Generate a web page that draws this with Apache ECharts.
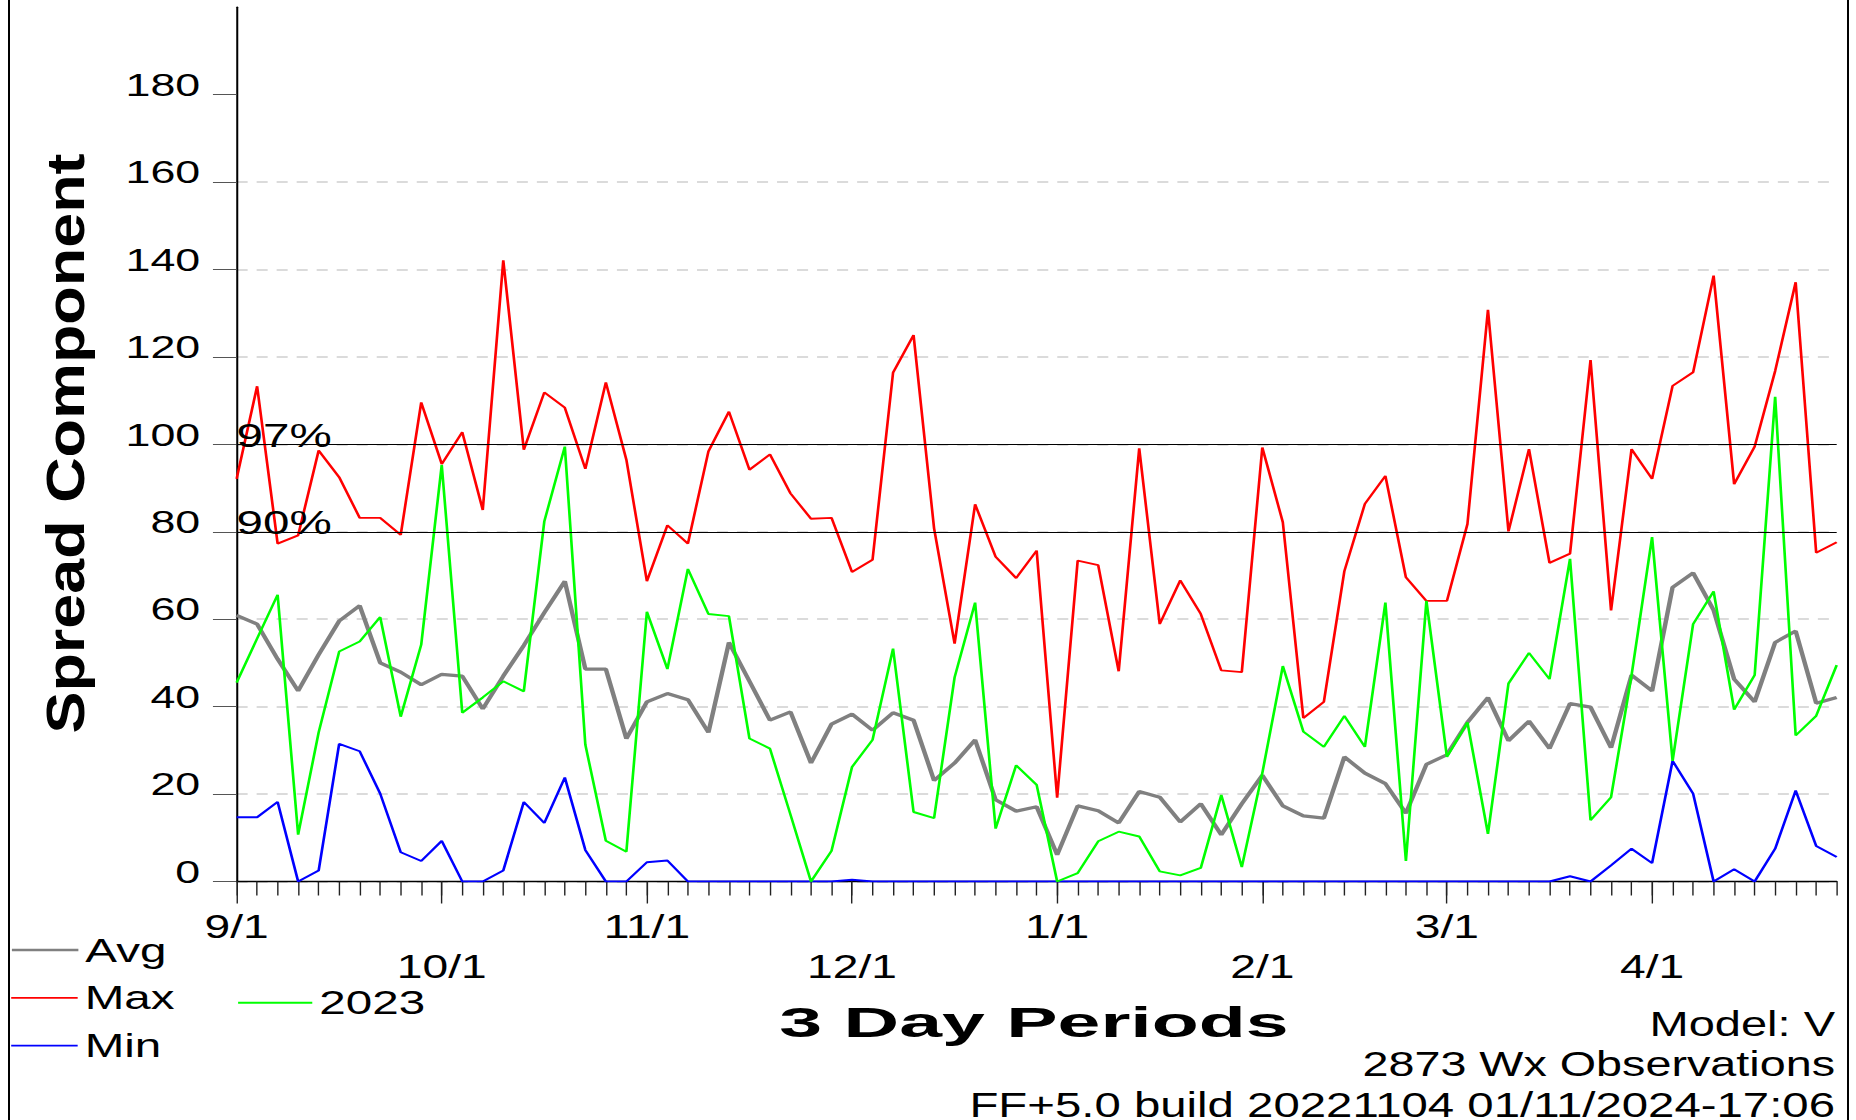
<!DOCTYPE html>
<html>
<head>
<meta charset="utf-8">
<title>Spread Component - 3 Day Periods</title>
<script src="https://cdn.jsdelivr.net/npm/echarts@6/dist/echarts.min.js"></script>
<style>
  html, body { margin: 0; padding: 0; background: #fff; overflow: hidden; }
  /* the original picture is wide and flat, so the chart is drawn narrow and stretched sideways */
  #chart { width: 1326px; height: 1120px; transform: scaleX(1.39970); transform-origin: 0 0; }
</style>
</head>
<body>
<div id="chart"></div>
<script>
const SX = 1856 / 1326;
const fx = x => x / SX;
const FONT = "'Liberation Sans', Arial, sans-serif";

// x axis: 79 three-day periods, months start at these period indices
const periodCount = 79;
const monthStarts = [0, 10, 20, 30, 40, 50, 59, 69];
const monthLabels = ['9/1', '10/1', '11/1', '12/1', '1/1', '2/1', '3/1', '4/1'];
const yTicks = [0, 20, 40, 60, 80, 100, 120, 140, 160, 180];

// percentile lines
const percentileValues = [100, 80];
const percentileNames = ['97%', '90%'];

const avgValues = [
  60.9, 58.9, 50.9, 43.6, 51.9, 59.6, 63.1, 50.0, 47.9, 45.0,
  47.4, 47.0, 39.5, 47.0, 54.0, 61.5, 68.7, 48.6, 48.6, 32.7,
  41.1, 43.0, 41.6, 34.1, 54.7, 45.8, 36.9, 38.8, 27.1, 36.0,
  38.3, 34.6, 38.6, 36.9, 23.1, 27.1, 32.4, 18.7, 16.1, 17.1,
  6.1, 17.3, 16.2, 13.4, 20.6, 19.3, 13.6, 17.8, 10.7, 17.8,
  24.3, 17.3, 15.0, 14.5, 28.5, 24.8, 22.4, 15.6, 26.8, 29.0,
  36.4, 42.1, 32.2, 36.7, 30.4, 40.7, 39.9, 30.6, 47.2, 43.6,
  67.3, 70.6, 62.1, 46.3, 41.1, 54.7, 57.3, 40.8, 42.1
];
const maxValues = [
  92.1, 113.3, 77.3, 79.2, 98.6, 92.5, 83.2, 83.2, 79.3, 109.6,
  95.5, 102.8, 85.0, 142.1, 98.8, 111.9, 108.4, 94.4, 114.2, 96.5,
  68.7, 81.5, 77.3, 98.4, 107.5, 94.2, 97.7, 88.8, 83.0, 83.2,
  70.8, 73.6, 116.4, 125.0, 80.8, 54.4, 86.3, 74.3, 69.4, 75.7,
  19.2, 73.4, 72.4, 48.1, 99.1, 58.9, 68.9, 61.2, 48.3, 47.9,
  99.3, 82.2, 37.4, 41.1, 71.0, 86.4, 92.8, 69.6, 64.2, 64.2,
  81.8, 130.8, 80.1, 98.9, 72.9, 75.0, 119.3, 62.0, 98.9, 92.1,
  113.4, 116.5, 138.6, 90.9, 99.5, 116.8, 137.1, 75.2, 77.6
];
const minValues = [
  14.7, 14.7, 18.2, 0, 2.5, 31.5, 29.8, 20.1, 6.7, 4.7,
  9.3, 0, 0, 2.5, 18.2, 13.4, 23.8, 7.2, 0, 0,
  4.4, 4.8, 0, 0, 0, 0, 0, 0, 0, 0,
  0.4, 0, 0, 0, 0, 0, 0, 0, 0, 0,
  0, 0, 0, 0, 0, 0, 0, 0, 0, 0,
  0, 0, 0, 0, 0, 0, 0, 0, 0, 0,
  0, 0, 0, 0, 0, 1.2, 0, 3.7, 7.5, 4.2,
  27.6, 20.1, 0, 2.8, 0, 7.5, 20.8, 8.1, 5.6
];
const season2023 = [
  45.5, 55.6, 65.6, 10.7, 34.1, 52.6, 54.9, 60.5, 37.7, 54.2,
  95.3, 38.6, 42.1, 45.8, 43.5, 82.4, 99.5, 31.3, 9.3, 6.8,
  61.7, 48.6, 71.5, 61.2, 60.7, 32.7, 30.4, 15.3, 0, 7.0,
  26.2, 32.4, 53.3, 15.9, 14.5, 46.7, 63.8, 12.1, 26.6, 22.1,
  0, 1.9, 9.2, 11.4, 10.3, 2.3, 1.4, 3.1, 19.8, 3.3,
  24.8, 49.3, 34.3, 30.8, 37.9, 30.8, 63.8, 4.7, 64.2, 28.5,
  36.4, 10.9, 45.3, 52.3, 46.3, 73.8, 14.0, 19.3, 47.2, 78.8,
  27.6, 58.9, 66.4, 39.3, 47.2, 110.9, 33.4, 37.9, 49.5
];

const periods = [];
for (let i = 0; i < periodCount; i++) periods.push(String(i));

const isMonthStart = index => monthStarts.indexOf(index) >= 0;
// month labels alternate between an upper and a lower row
const isUpperRow = index => monthStarts.indexOf(index) % 2 === 0;
const isLowerRow = index => monthStarts.indexOf(index) % 2 === 1;
const monthLabel = (value, index) => {
  const k = monthStarts.indexOf(index);
  return k < 0 ? '' : monthLabels[k];
};

function lineSeries(name, data, color, width) {
  return {
    name: name,
    type: 'line',
    data: data,
    symbol: 'none',
    silent: true,
    lineStyle: { color: color, width: width },
    itemStyle: { color: color }
  };
}

const avgSeries = lineSeries('Avg', avgValues, '#808080', 3.2);
avgSeries.markLine = {
  silent: true,
  symbol: 'none',
  lineStyle: { color: '#000', width: 1.2, type: 'solid' },
  label: {
    show: true,
    position: 'insideStartTop',
    formatter: '{b}',
    fontSize: 34,
    fontFamily: FONT,
    color: '#000',
    distance: [0, 0],
    lineHeight: 18
  },
  data: percentileValues.map((v, k) => ({ yAxis: v, name: percentileNames[k] }))
};

const legendText = { fontSize: 34, color: '#000', fontFamily: FONT };

function monthAxis(showTicks, labelRow, margin) {
  return {
    type: 'category',
    data: periods,
    boundaryGap: false,
    position: 'bottom',
    offset: 0,
    axisLine: { show: false },
    axisTick: { show: showTicks, interval: isMonthStart, length: 22, lineStyle: { color: '#222', width: 1 } },
    axisLabel: {
      show: true,
      interval: labelRow,
      formatter: monthLabel,
      fontSize: 33,
      lineHeight: 40.7,
      margin: margin,
      color: '#000',
      verticalAlign: 'top'
    },
    splitLine: { show: false }
  };
}

const option = {
  animation: false,
  backgroundColor: '#fff',
  textStyle: { fontFamily: FONT },
  grid: {
    left: fx(236.6),
    right: 1326 - fx(1836.7),
    top: 7.3,
    bottom: 238.5,
    containLabel: false,
    outerBoundsMode: 'none'
  },
  legend: [
    {
      orient: 'vertical',
      left: fx(10),
      top: 933,
      padding: 0,
      itemWidth: 47.5,
      itemHeight: 14,
      itemGap: 13.85,
      selectedMode: false,
      itemStyle: { opacity: 0 },
      lineStyle: { width: 2.7 },
      data: ['Avg'],
      textStyle: legendText
    },
    {
      orient: 'vertical',
      left: fx(10),
      top: 980.85,
      padding: 0,
      itemWidth: 47.5,
      itemHeight: 14,
      itemGap: 13.85,
      selectedMode: false,
      itemStyle: { opacity: 0 },
      lineStyle: { width: 1.7 },
      data: ['Max', 'Min'],
      textStyle: legendText
    },
    {
      left: fx(236.7),
      top: 985.7,
      padding: 0,
      itemWidth: 53,
      itemHeight: 14,
      selectedMode: false,
      itemStyle: { opacity: 0 },
      lineStyle: { width: 2 },
      data: ['2023'],
      textStyle: legendText
    }
  ],
  xAxis: [
    {
      type: 'category',
      data: periods,
      boundaryGap: false,
      offset: 0,
      axisLine: { show: true, lineStyle: { color: '#000', width: 1.3 } },
      axisTick: { show: true, interval: 0, length: 14, lineStyle: { color: '#222', width: 1 } },
      axisLabel: { show: false },
      splitLine: { show: false }
    },
    monthAxis(true, isUpperRow, 24.7),
    monthAxis(false, isLowerRow, 65.4)
  ],
  yAxis: {
    type: 'value',
    min: 0,
    max: 200,
    interval: 20,
    axisLine: { show: true, lineStyle: { color: '#000', width: 1.45 } },
    axisTick: { show: true, length: 16.9, customValues: yTicks, lineStyle: { color: '#555', width: 1 } },
    axisLabel: {
      customValues: yTicks,
      fontSize: 32,
      color: '#000',
      margin: 26,
      verticalAlign: 'bottom',
      lineHeight: 20
    },
    splitLine: {
      show: true,
      showMaxLine: false,
      lineStyle: { color: '#d0d0d0', width: 1.5, type: [7.9, 6.4] }
    }
  },
  graphic: [
    {
      type: 'line', silent: true,
      shape: { x1: fx(9), y1: 0, x2: fx(9), y2: 1120 },
      style: { stroke: '#000', lineWidth: 2 / SX }
    },
    {
      type: 'line', silent: true,
      shape: { x1: fx(1848), y1: 0, x2: fx(1848), y2: 1120 },
      style: { stroke: '#000', lineWidth: 2 / SX }
    },
    {
      type: 'text', silent: true,
      x: fx(65), y: 443.5,
      rotation: Math.PI / 2,
      scaleX: 1.258, scaleY: 0.758,
      style: {
        text: 'Spread Component', fill: '#000',
        font: 'bold 50px ' + FONT,
        align: 'center', verticalAlign: 'middle',
        textAlign: 'center', textVerticalAlign: 'middle'
      }
    },
    {
      type: 'text', silent: true,
      x: fx(1034), y: 1022,
      scaleX: 1.31,
      style: {
        text: '3 Day Periods', fill: '#000',
        font: 'bold 42px ' + FONT,
        align: 'center', verticalAlign: 'middle',
        textAlign: 'center', textVerticalAlign: 'middle'
      }
    },
    {
      type: 'text', silent: true,
      x: fx(1835), y: 1024,
      scaleX: 0.96,
      style: {
        text: 'Model: V', fill: '#000',
        font: '35px ' + FONT,
        align: 'right', verticalAlign: 'middle',
        textAlign: 'right', textVerticalAlign: 'middle'
      }
    },
    {
      type: 'text', silent: true,
      x: fx(1835), y: 1064.2,
      scaleX: 0.954,
      style: {
        text: '2873 Wx Observations', fill: '#000',
        font: '35px ' + FONT,
        align: 'right', verticalAlign: 'middle',
        textAlign: 'right', textVerticalAlign: 'middle'
      }
    },
    {
      type: 'text', silent: true,
      x: fx(1835), y: 1104.5,
      scaleX: 0.94,
      style: {
        text: 'FF+5.0 build 20221104 01/11/2024-17:06', fill: '#000',
        font: '36px ' + FONT,
        lineHeight: 20,
        align: 'right', verticalAlign: 'middle',
        textAlign: 'right', textVerticalAlign: 'middle'
      }
    }
  ],
  series: [
    avgSeries,
    lineSeries('Max', maxValues, '#ff0000', 1.9),
    lineSeries('Min', minValues, '#0000ff', 1.9),
    lineSeries('2023', season2023, '#00ff00', 1.9)
  ]
};

const chart = echarts.init(document.getElementById('chart'), null, { renderer: 'svg' });
chart.setOption(option);
</script>
</body>
</html>
